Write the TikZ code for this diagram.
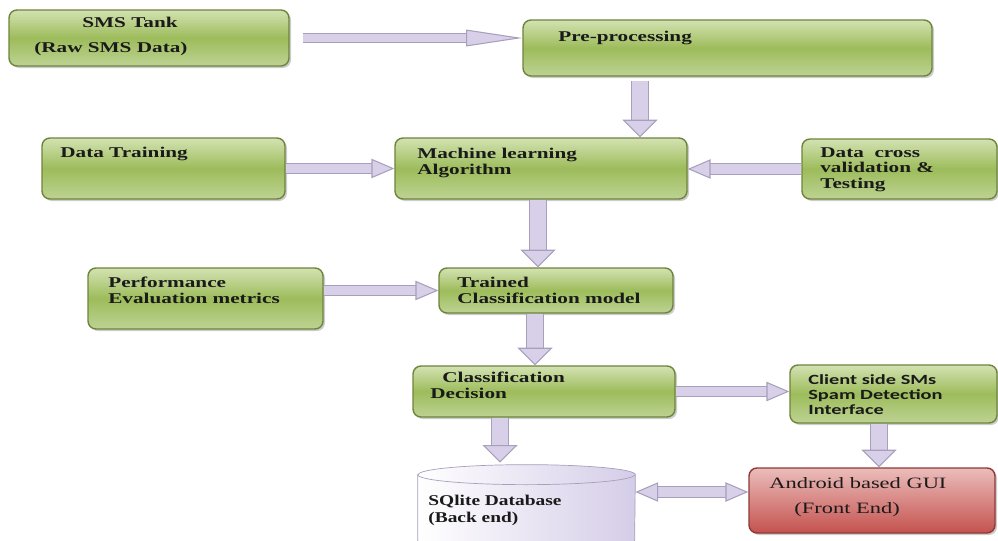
\documentclass[tikz,border=0pt]{standalone}
\usepackage{fontspec}
\setmainfont{Liberation Serif}
\newfontfamily\boxfont{Liberation Serif}[FakeStretch=1.42]
\newfontfamily\dbfont{Liberation Serif}[FakeStretch=1.3]
\newfontfamily\clientfont{Carlito}[FakeStretch=1.45]
\usetikzlibrary{arrows.meta,shadows}

\definecolor{gtop}{HTML}{D3E2B2}
\definecolor{gmid}{HTML}{9DBC5B}
\definecolor{gbot}{HTML}{BDD393}
\definecolor{gedge}{HTML}{6E843C}
\definecolor{rtop}{HTML}{EBBDBB}
\definecolor{rbot}{HTML}{C4524E}
\definecolor{redge}{HTML}{8E3A37}
\definecolor{lav}{HTML}{D8D0E8}
\definecolor{lavedge}{HTML}{A89FBC}
\definecolor{dbbody}{HTML}{D5CDE8}
\definecolor{ink}{HTML}{1A1A1A}

\newdimen\px \px=0.02cm

\tikzset{
  stage/.style={rounded corners=8\px, draw=gedge, thick,
    top color=gtop, bottom color=gbot, middle color=gmid,
    drop shadow={shadow xshift=2\px, shadow yshift=-2\px, fill=black!40}},
  front/.style={rounded corners=8\px, draw=redge, thick,
    top color=rtop, bottom color=rbot,
    drop shadow={shadow xshift=2\px, shadow yshift=-2\px, fill=black!40}},
  lbl/.style={anchor=north west, inner sep=0pt, align=left, text=ink,
    font=\boxfont\bfseries\fontsize{8.5}{8.8}\selectfont},
  harrow/.style={line width=5.5pt, draw=lav,
    -{Triangle[width=11pt,length=13pt,line width=.6pt,color=lavedge,fill=lav]},
    preaction={draw=lavedge, line width=6.5pt, -, shorten >=12pt}},
  longarrow/.style={line width=5pt, draw=lav,
    -{Triangle[width=9.5pt,length=32pt,line width=.6pt,color=lavedge,fill=lav]},
    preaction={draw=lavedge, line width=6pt, -, shorten >=31pt}},
  varrow/.style={line width=9pt, draw=lav,
    -{Triangle[width=20pt,length=10pt,line width=.6pt,color=lavedge,fill=lav]},
    preaction={draw=lavedge, line width=10pt, -, shorten >=9pt}},
  dblarrow/.style={line width=5.5pt, draw=lav,
    {Triangle[width=11pt,length=13pt,line width=.6pt,color=lavedge,fill=lav]}-{Triangle[width=11pt,length=13pt,line width=.6pt,color=lavedge,fill=lav]},
    preaction={draw=lavedge, line width=6.5pt, -, shorten >=12pt, shorten <=12pt}}
}

\begin{document}
\begin{tikzpicture}[x=0.02cm, y=-0.02cm]
  \useasboundingbox (0,0) rectangle (998,541);

  % boxes
  \node[stage, minimum width=280\px, minimum height=56\px] (tank) at (149,38) {};
  \node[stage, minimum width=409\px, minimum height=56\px] (prep) at (727.5,48) {};
  \node[stage, minimum width=243\px, minimum height=61\px] (train) at (163.5,168.5) {};
  \node[stage, minimum width=292\px, minimum height=61\px] (ml) at (541,168.5) {};
  \node[stage, minimum width=195\px, minimum height=60\px] (cross) at (899.5,169) {};
  \node[stage, minimum width=235\px, minimum height=61\px] (perf) at (205.5,298.5) {};
  \node[stage, minimum width=234\px, minimum height=45\px] (trained) at (556,290.5) {};
  \node[stage, minimum width=262\px, minimum height=51\px] (dec) at (544,391.5) {};
  \node[stage, minimum width=207\px, minimum height=58\px] (client) at (893.5,394) {};
  \node[front, minimum width=246\px, minimum height=65\px] (gui) at (872,500.5) {};

  % database drum, the node spans the body between the two end centres
  \node[inner sep=0pt, minimum width=217\px, minimum height=65\px] (db) at (526.5,507.5) {};
  \path[draw=lavedge, left color=white, right color=dbbody]
    (db.north west) -- (db.south west)
    arc[start angle=180, end angle=360, x radius=108.5\px, y radius=10\px]
    -- (db.north east)
    arc[start angle=0, end angle=180, x radius=108.5\px, y radius=10\px] -- cycle;
  \draw[lavedge] (db.north west)
    arc[start angle=180, end angle=360, x radius=108.5\px, y radius=10\px];

  % texts
  \node[lbl] (tank-t) at (34,17) {\hspace*{48\px}SMS Tank\\[5.4pt](Raw SMS Data)};
  \node[lbl] (prep-t) at (558,31) {Pre-processing};
  \node[lbl] (train-t) at (60,147) {Data Training};
  \node[lbl] (ml-t) at (417,148) {Machine learning\\Algorithm};
  \node[lbl] (cross-t) at (820,147) {Data\ \ cross\\validation \&\\Testing};
  \node[lbl] (perf-t) at (108,277) {Performance\\Evaluation metrics};
  \node[lbl] (trained-t) at (457,277) {Trained\\Classification model};
  \node[lbl] (dec-t) at (430,372) {\hspace*{12\px}Classification\\Decision};
  \node[lbl, font=\clientfont\bfseries\fontsize{8}{8.7}\selectfont] (client-t) at (808,374)
    {Client side SMs\\Spam Detection\\Interface};
  \node[lbl, font=\dbfont\bfseries\fontsize{8.5}{9.6}\selectfont] (db-t) at (428,495)
    {SQlite Database\\(Back end)};
  \node[lbl, font=\boxfont\fontsize{9}{10.5}\selectfont] (gui-t) at (769,477)
    {Android based GUI\\[3.7pt]\hspace*{25\px}(Front End)};

  % connectors
  \draw[longarrow, shorten <=13\px] (tank.east) -- (tank.east -| prep.west);
  \draw[varrow, shorten <=4\px] ([xshift=-87.5\px]prep.south) -- ([xshift=-87.5\px]prep.south |- ml.north);
  \draw[harrow] (train.east) -- (ml.west);
  \draw[harrow] (cross.west) -- (cross.west -| ml.east);
  \draw[varrow] ([xshift=-3\px]ml.south) -- ([xshift=-3\px]ml.south |- trained.north);
  \draw[harrow] (trained.west -| perf.east) -- (trained.west);
  \draw[varrow] ([xshift=-21\px]trained.south) -- ([xshift=-21\px]trained.south |- dec.north);
  \draw[harrow] (dec.east) -- (dec.east -| client.west);
  \draw[varrow] ([xshift=-44\px]dec.south) -- ([xshift=-26.5\px,yshift=12\px]db.north);
  \draw[varrow] ([xshift=-14.5\px]client.south) -- ([xshift=-14.5\px]client.south |- gui.north);
  \draw[dblarrow] ([yshift=8.5\px]db.east |- gui.west) -- ([yshift=8.5\px]gui.west);
\end{tikzpicture}
\end{document}
